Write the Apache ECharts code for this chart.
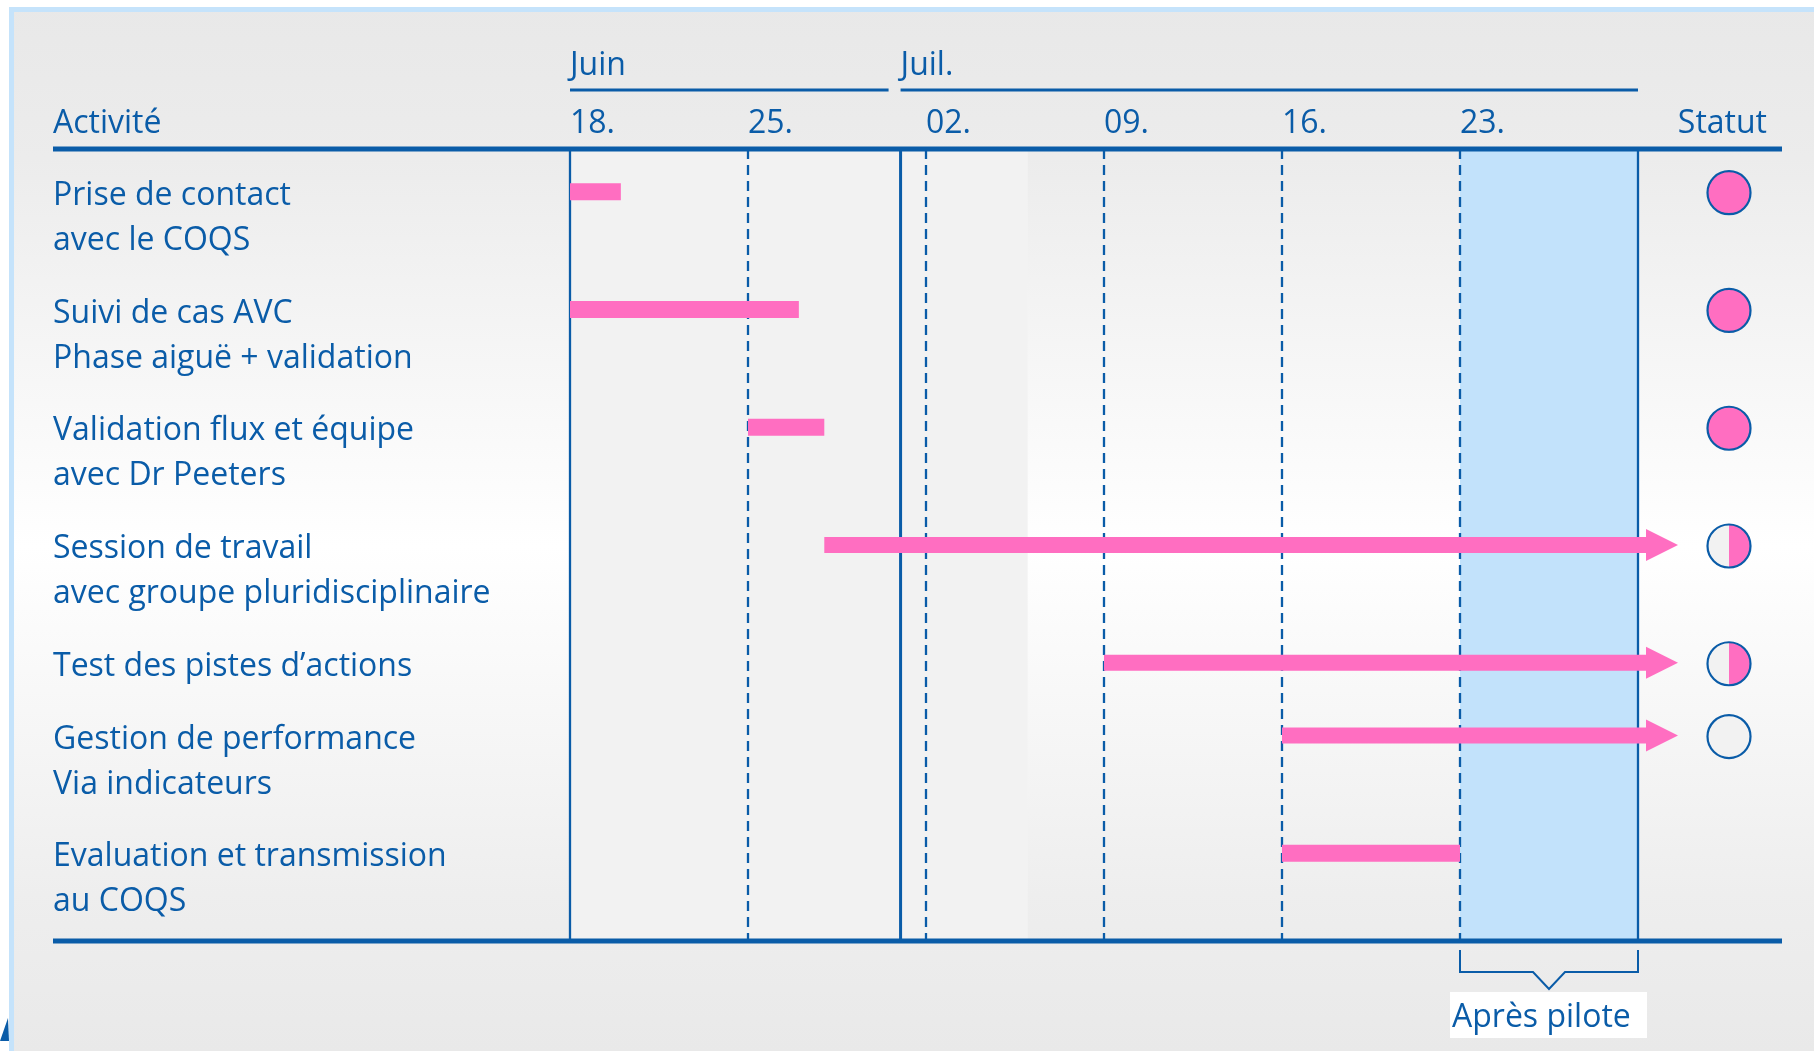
<!DOCTYPE html>
<html>
<head>
<meta charset="utf-8">
<script src="https://cdn.jsdelivr.net/npm/echarts@6/dist/echarts.min.js"></script>
<style>
html,body{margin:0;padding:0;background:#fff;}
#chart{width:1814px;height:1051px;}
</style>
</head>
<body>
<div id="chart"></div>
<script>
// ---------- DATA ----------
const startDate = '2018-06-18';
const endDate = '2018-07-30';
const weekLabels = ['18.', '25.', '02.', '09.', '16.', '23.'];
const monthLabels = ['Juin', 'Juil.'];
const monthStarts = ['2018-06-18', '2018-07-01'];
const activities = [
  'Prise de contact\navec le COQS',
  'Suivi de cas AVC\nPhase aiguë + validation',
  'Validation flux et équipe\navec Dr Peeters',
  'Session de travail\navec groupe pluridisciplinaire',
  'Test des pistes d\u2019actions',
  'Gestion de performance\nVia indicateurs',
  'Evaluation et transmission\nau COQS'
];
const taskStart = ['2018-06-18', '2018-06-18', '2018-06-25', '2018-06-28', '2018-07-09', '2018-07-16', '2018-07-16'];
const taskEnd   = ['2018-06-20', '2018-06-27', '2018-06-28', null, null, null, '2018-07-23'];  // null = ongoing (arrow)
const taskStatus = ['done', 'done', 'done', 'half', 'half', 'todo', 'none'];
const pilotLabel = 'Après pilote';
const pilotRange = ['2018-07-23', '2018-07-30'];
const panelRange = ['2018-06-18', '2018-07-06'];
const headerLeft = 'Activité';
const headerRight = 'Statut';

// ---------- helpers ----------
const DAY = 86400000;
function dayIdx(s) { return Math.round((Date.parse(s + 'T00:00:00Z') - Date.parse(startDate + 'T00:00:00Z')) / DAY); }
const maxDay = dayIdx(endDate);
const GAP = 0.62, FIRST = 0.95;
const rowPos = [];
let acc = FIRST;
activities.forEach(function (a, i) { rowPos.push(acc); acc += a.split('\n').length + GAP; });
const lastLines = activities[activities.length - 1].split('\n').length;
const yMax = rowPos[rowPos.length - 1] + lastLines - 1 + 0.95;

const BLUE = '#0a5ca8';
const PINK = '#ff6ec1';
const FONT = '"Open Sans", sans-serif';
const FS = 32;
const LABEL_X = 53, TABLE_RIGHT = 1782;

const chart = echarts.init(document.getElementById('chart'));

const option = {
  backgroundColor: new echarts.graphic.LinearGradient(0, 0, 0, 1, [
    {offset: 0, color: '#e8e8e8'}, {offset: 0.15, color: '#ececec'},
    {offset: 0.52, color: '#ffffff'}, {offset: 0.85, color: '#eeeeee'}, {offset: 1, color: '#e9e9e9'}
  ]),
  animation: false,
  grid: {left: 570, right: 176, top: 149, bottom: 110},
  xAxis: {
    type: 'value', min: 0, max: maxDay, interval: 7, position: 'top',
    axisLine: {show: false}, axisTick: {show: false}, splitLine: {show: false},
    axisLabel: {
      show: true, align: 'left', verticalAlign: 'middle', margin: 25, showMaxLabel: false,
      color: BLUE, fontSize: FS, fontFamily: FONT,
      formatter: function (v) { return weekLabels[Math.round(v / 7)] || ''; }
    }
  },
  yAxis: {type: 'value', inverse: true, min: 0, max: yMax, show: false},
  graphic: [
    {type: 'rect', shape: {x: 0, y: 0, width: 1814, height: 7}, style: {fill: '#ffffff'}, silent: true},
    {type: 'rect', shape: {x: 0, y: 0, width: 9, height: 1051}, style: {fill: '#ffffff'}, silent: true},
    {type: 'rect', shape: {x: 9, y: 7, width: 1805, height: 5}, style: {fill: '#c5e3fb'}, silent: true},
    {type: 'rect', shape: {x: 9, y: 7, width: 5, height: 1044}, style: {fill: '#c5e3fb'}, silent: true},
    {type: 'polygon', shape: {points: [[0, 1041], [8, 1018], [9, 1041]]}, style: {fill: BLUE}, silent: true}
  ],
  series: [
    // background panel and pilot band
    {
      type: 'custom', z: 1, silent: true, clip: false,
      data: [[0]],
      renderItem: function (params, api) {
        const p0 = api.coord([dayIdx(panelRange[0]), 0]);
        const p1 = api.coord([dayIdx(panelRange[1]), yMax]);
        const b0 = api.coord([dayIdx(pilotRange[0]), 0]);
        const b1 = api.coord([dayIdx(pilotRange[1]), yMax]);
        return {type: 'group', children: [
          {type: 'rect', shape: {x: p0[0], y: p0[1], width: p1[0] - p0[0], height: p1[1] - p0[1]}, style: {fill: '#f2f2f2'}},
          {type: 'rect', shape: {x: b0[0], y: b0[1], width: b1[0] - b0[0], height: b1[1] - b0[1]}, style: {fill: '#c2e2fb'}}
        ]};
      }
    },
    // vertical grid lines
    {
      type: 'custom', z: 2, silent: true, clip: false,
      data: [0, 7, 14, 21, 28, 35, 42].map(function (d) { return [d, 'week']; })
        .concat(monthStarts.slice(1).map(function (m) { return [dayIdx(m), 'month']; })),
      renderItem: function (params, api) {
        const d = api.value(0);
        const kind = params.dataIndex >= 7 ? 'month' : 'week';
        const a = api.coord([d, 0]);
        const b = api.coord([d, yMax]);
        const solid = kind === 'month' || d === 0 || d === maxDay;
        return {type: 'line', shape: {x1: a[0], y1: a[1], x2: b[0], y2: b[1]},
          style: {stroke: BLUE, lineWidth: kind === 'month' ? 3 : 2.3, lineDash: solid ? null : [10, 6]}};
      }
    },
    // tasks: labels, bars/arrows, status
    {
      type: 'custom', z: 3, silent: true, clip: false,
      data: activities.map(function (a, i) {
        return [dayIdx(taskStart[i]), taskEnd[i] ? dayIdx(taskEnd[i]) : maxDay, rowPos[i]];
      }),
      renderItem: function (params, api) {
        const i = params.dataIndex;
        const s = api.coord([api.value(0), api.value(2)]);
        const e = api.coord([api.value(1), api.value(2)]);
        const lineStep = api.size([0, 1])[1];
        const y = s[1];
        const children = [];
        activities[i].split('\n').forEach(function (t, k) {
          children.push({type: 'text', style: {text: t, x: LABEL_X, y: y + 4 + k * lineStep,
            fill: BLUE, fontSize: FS, fontFamily: FONT, align: 'left', verticalAlign: 'middle'}});
        });
        if (taskEnd[i]) {
          children.push({type: 'rect', shape: {x: s[0], y: y - 8.5, width: e[0] - s[0], height: 17}, style: {fill: PINK}});
        } else {
          const hb = e[0] + 8, tip = e[0] + 40;
          children.push({type: 'polygon', shape: {points: [
            [s[0], y - 8], [hb, y - 8], [hb, y - 16], [tip, y], [hb, y + 16], [hb, y + 8], [s[0], y + 8]
          ]}, style: {fill: PINK}});
        }
        const cx = api.coord([maxDay, 0])[0] + 91, cy = y + 1, r = 21.5;
        const st = taskStatus[i];
        if (st !== 'none') {
          children.push({type: 'circle', shape: {cx: cx, cy: cy, r: r}, style: {fill: st === 'done' ? PINK : '#f2f2f2'}});
          if (st === 'half') {
            children.push({type: 'sector', shape: {cx: cx, cy: cy, r: r, r0: 0, startAngle: -Math.PI / 2, endAngle: Math.PI / 2, clockwise: true}, style: {fill: PINK}});
          }
          children.push({type: 'circle', shape: {cx: cx, cy: cy, r: r}, style: {fill: 'none', stroke: BLUE, lineWidth: 2.2}});
        }
        return {type: 'group', children: children};
      }
    },
    // frame: header/bottom lines, headers, months, pilot bracket
    {
      type: 'custom', z: 4, silent: true, clip: false,
      data: [[0]],
      renderItem: function (params, api) {
        const top = api.coord([0, 0])[1];
        const bottom = api.coord([0, yMax])[1];
        const children = [
          {type: 'rect', shape: {x: LABEL_X, y: top - 2.5, width: TABLE_RIGHT - LABEL_X, height: 5}, style: {fill: BLUE}},
          {type: 'rect', shape: {x: LABEL_X, y: bottom - 2.5, width: TABLE_RIGHT - LABEL_X, height: 5}, style: {fill: BLUE}},
          {type: 'text', style: {text: headerLeft, x: LABEL_X, y: top - 25, fill: BLUE, fontSize: FS, fontFamily: FONT, align: 'left', verticalAlign: 'middle'}},
          {type: 'text', style: {text: headerRight, x: 1767, y: top - 25, fill: BLUE, fontSize: FS, fontFamily: FONT, align: 'right', verticalAlign: 'middle'}}
        ];
        monthLabels.forEach(function (m, k) {
          const x0 = api.coord([dayIdx(monthStarts[k]), 0])[0];
          const x1 = k + 1 < monthStarts.length ? api.coord([dayIdx(monthStarts[k + 1]), 0])[0] - 12 : api.coord([maxDay, 0])[0];
          children.push({type: 'text', style: {text: m, x: x0, y: top - 83, fill: BLUE, fontSize: FS, fontFamily: FONT, align: 'left', verticalAlign: 'middle'}});
          children.push({type: 'rect', shape: {x: x0, y: top - 60.5, width: x1 - x0, height: 3}, style: {fill: BLUE}});
        });
        const bx0 = api.coord([dayIdx(pilotRange[0]), 0])[0];
        const bx1 = api.coord([dayIdx(pilotRange[1]), 0])[0];
        const mid = (bx0 + bx1) / 2;
        const yb = bottom + 9, yh = bottom + 31, ya = bottom + 48;
        children.push({type: 'polyline', shape: {points: [
          [bx0, yb], [bx0, yh], [mid - 16, yh], [mid, ya], [mid + 16, yh], [bx1, yh], [bx1, yb]
        ]}, style: {stroke: BLUE, lineWidth: 2, fill: null}});
        children.push({type: 'rect', shape: {x: bx0 - 10, y: bottom + 51, width: 197, height: 46}, style: {fill: '#ffffff'}});
        children.push({type: 'text', style: {text: pilotLabel, x: bx0 - 8, y: bottom + 77, fill: BLUE, fontSize: 32, fontFamily: FONT, align: 'left', verticalAlign: 'middle'}});
        return {type: 'group', children: children};
      }
    }
  ]
};
chart.setOption(option);
</script>
</body>
</html>
